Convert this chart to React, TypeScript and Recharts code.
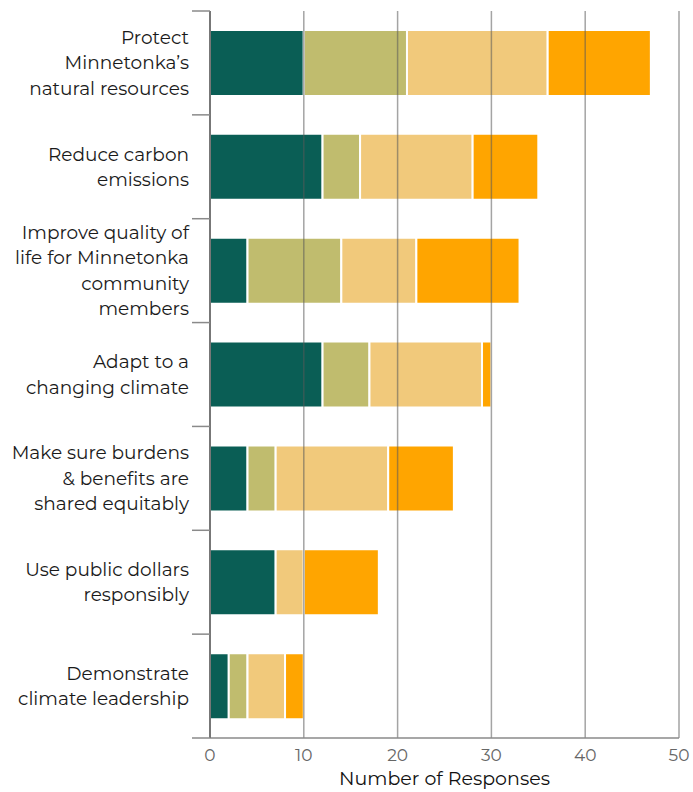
import React from "react";
import { BarChart, Bar, XAxis, YAxis, ReferenceLine } from "recharts";

const goals = [
  "Protect|Minnetonka’s|natural resources",
  "Reduce carbon|emissions",
  "Improve quality of|life for Minnetonka|community|members",
  "Adapt to a|changing climate",
  "Make sure burdens|& benefits are|shared equitably",
  "Use public dollars|responsibly",
  "Demonstrate|climate leadership",
];
const rank1 = [10, 12, 4, 12, 4, 7, 2];
const rank2 = [11, 4, 10, 5, 3, 0, 2];
const rank3 = [15, 12, 8, 12, 12, 3, 4];
const rank4 = [11, 7, 11, 1, 7, 8, 2];
const xTicks = [0, 10, 20, 30, 40, 50];

const COLORS = ["#0a5e55", "#c0bc6e", "#f1c97b", "#ffa500"];
const FONT = "Montserrat, 'Open Sans', sans-serif";
const BAND = 727 / goals.length;

const data = goals.map((g, i) => ({
  goal: g,
  r1: rank1[i],
  r2: rank2[i],
  r3: rank3[i],
  r4: rank4[i],
}));

function GoalTick(props: any) {
  const { x, y, payload, index } = props;
  const lines = String(payload.value).split("|");
  const lh = 25.5;
  const start = y - ((lines.length - 1) * lh) / 2;
  return (
    <g>
      <line x1={x - 18} x2={x} y1={y - BAND / 2} y2={y - BAND / 2} stroke="#8a8a8a" strokeWidth={1.5} />
      {index === goals.length - 1 && (
        <line x1={x - 18} x2={x} y1={y + BAND / 2} y2={y + BAND / 2} stroke="#8a8a8a" strokeWidth={1.5} />
      )}
      <text textAnchor="end" fill="#1a1a1a" fontSize={18.5} fontFamily={FONT}>
        {lines.map((l, i) => (
          <tspan key={i} x={x - 21} y={start + i * lh} dy="0.35em">
            {l}
          </tspan>
        ))}
      </text>
    </g>
  );
}

export default function App() {
  return (
    <div style={{ position: "absolute", left: 0, top: 0, width: 693, height: 792, background: "#fff" }}>
      <BarChart
        width={693}
        height={792}
        data={data}
        layout="vertical"
        margin={{ top: 11, right: 14, bottom: 4, left: 0 }}
        barSize={66}
      >
        <XAxis
          type="number"
          domain={[0, 50]}
          ticks={xTicks}
          height={50}
          tickLine={false}
          axisLine={{ stroke: "#8a8a8a", strokeWidth: 1.5 }}
          tick={{ fill: "#666", fontSize: 17, fontFamily: FONT }}
          tickMargin={5}
          label={{
            value: "Number of Responses",
            position: "insideBottom",
            offset: 3,
            fill: "#111",
            fontSize: 19,
            fontFamily: FONT,
          }}
        />
        <YAxis
          type="category"
          dataKey="goal"
          width={210}
          tickLine={false}
          tickSize={0}
          tickMargin={0}
          axisLine={{ stroke: "#777", strokeWidth: 2 }}
          tick={<GoalTick />}
          interval={0}
        />
        <Bar dataKey="r1" stackId="a" fill={COLORS[0]} stroke="#fff" strokeWidth={2} isAnimationActive={false} />
        <Bar dataKey="r2" stackId="a" fill={COLORS[1]} stroke="#fff" strokeWidth={2} isAnimationActive={false} />
        <Bar dataKey="r3" stackId="a" fill={COLORS[2]} stroke="#fff" strokeWidth={2} isAnimationActive={false} />
        <Bar dataKey="r4" stackId="a" fill={COLORS[3]} stroke="#fff" strokeWidth={2} isAnimationActive={false} />
        {xTicks.slice(1).map((t) => (
          <ReferenceLine key={t} x={t} stroke="rgba(90,90,90,0.55)" strokeWidth={1.5} />
        ))}
      </BarChart>
    </div>
  );
}
